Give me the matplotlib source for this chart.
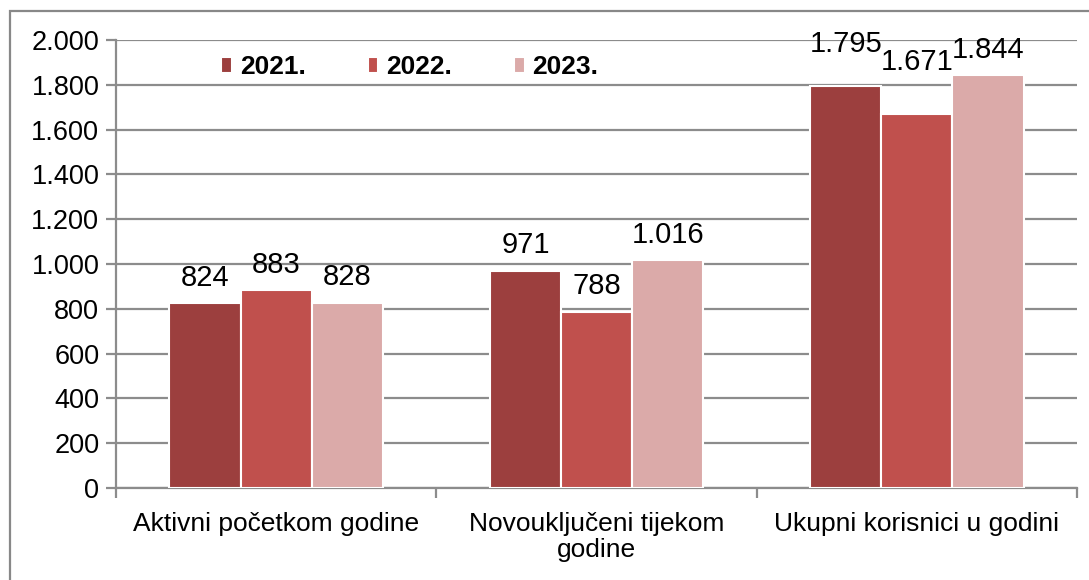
import numpy as np
import matplotlib.pyplot as plt
from matplotlib.patches import Rectangle
from matplotlib.ticker import FuncFormatter

plt.rcParams['font.family'] = ['Liberation Sans', 'DejaVu Sans']

categories = ['Aktivni početkom godine', 'Novouključeni tijekom\ngodine', 'Ukupni korisnici u godini']
years = ['2021.', '2022.', '2023.']
v2021 = [824, 971, 1795]
v2022 = [883, 788, 1671]
v2023 = [828, 1016, 1844]

colors = ['#9c3f3e', '#c0504d', '#dbaaa9']
# extra lift for the labels Excel had moved up (points), per category then series
lift = [[0, 0, 0], [0, 0, 0], [12, 19, 0]]


def fmt(v):
	return '{:,.0f}'.format(v).replace(',', '.')


fig = plt.figure(figsize=(10.89, 5.80), dpi=100)
ax = fig.add_axes([0.1065, 0.1586, 0.8825, 0.7724])

# outer frame of the chart area
fig.patches.append(Rectangle((10/1089, -0.1), 1.2, 1.1 - 11/580, transform=fig.transFigure,
	fill=False, edgecolor='#888888', linewidth=1.6, zorder=0))

x = np.arange(len(categories))
w = 0.222
series = [v2021, v2022, v2023]
for i, vals in enumerate(series):
	pos = x + (i - 1) * w
	bars = ax.bar(pos, vals, width=w, color=colors[i], edgecolor='white', linewidth=1.5,
		label=years[i], zorder=3)
	for j, b in enumerate(bars):
		ax.annotate(fmt(vals[j]), (b.get_x() + b.get_width()/2, vals[j]),
			xytext=(0, 8 + lift[j][i]), textcoords='offset points',
			ha='center', va='bottom', fontsize=21, zorder=4)

ax.set_xlim(-0.5, 2.5)
ax.set_ylim(0, 2000)
ax.set_yticks(np.arange(0, 2001, 200))
ax.yaxis.set_major_formatter(FuncFormatter(lambda v, p: fmt(v)))
ax.grid(axis='y', color='#8c8c8c', linewidth=1.6, zorder=0)
ax.set_axisbelow(True)

ax.set_xticks([-0.5, 0.5, 1.5, 2.5])
ax.set_xticklabels([])
ax.set_xticks(x, minor=True)
ax.set_xticklabels(categories, minor=True, fontsize=19, linespacing=1.15)
ax.tick_params(axis='x', which='minor', length=0, pad=17)
ax.tick_params(axis='x', which='major', length=7, width=1.6, color='#8c8c8c', direction='out')
ax.tick_params(axis='y', length=7, width=1.6, color='#8c8c8c', labelsize=19.5, pad=5)

for s in ['top', 'right']:
	ax.spines[s].set_visible(False)
for s in ['left', 'bottom']:
	ax.spines[s].set_color('#8c8c8c')
	ax.spines[s].set_linewidth(1.6)

leg = ax.legend(loc='center left', bbox_to_anchor=(0.085, 0.94), ncol=3, frameon=False,
	prop={'weight': 'bold', 'size': 19}, handlelength=0.4, handleheight=0.55,
	handletextpad=0.3, columnspacing=2.35)

plt.savefig('out.png', dpi=100)
